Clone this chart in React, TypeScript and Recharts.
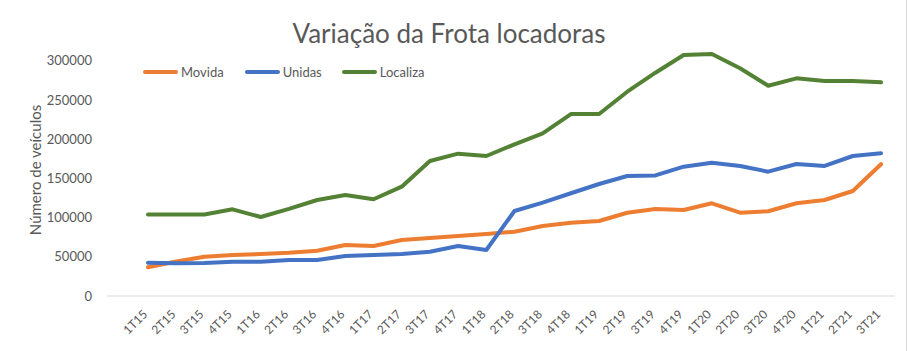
import React from 'react';
import { LineChart, Line, XAxis, YAxis } from 'recharts';

const quarters = [
  '1T15', '2T15', '3T15', '4T15', '1T16', '2T16', '3T16', '4T16', '1T17',
  '2T17', '3T17', '4T17', '1T18', '2T18', '3T18', '4T18', '1T19', '2T19',
  '3T19', '4T19', '1T20', '2T20', '3T20', '4T20', '1T21', '2T21', '3T21',
];

const movida = [
  36600, 44000, 50100, 52300, 53500, 55200, 57800, 65000, 63800, 71400, 74000,
  76500, 79000, 82000, 89300, 93500, 95600, 106200, 111000, 109700, 118200,
  106200, 108000, 118200, 122400, 133900, 168000,
];

const unidas = [
  42500, 41800, 42000, 43700, 43700, 45900, 45900, 51000, 52300, 53500, 56500,
  63800, 58700, 108400, 119000, 131000, 142800, 153000, 153800, 164900, 170000,
  165800, 158500, 168300, 165800, 178500, 182000,
];

const localiza = [
  104000, 104000, 104000, 110500, 100700, 111000, 122400, 128800, 123300,
  139400, 172100, 181500, 178500, 193400, 207400, 232000, 232000, 260500,
  284700, 307300, 308500, 290300, 268100, 277500, 274100, 274100, 272400,
];

const yTicks = [0, 50000, 100000, 150000, 200000, 250000, 300000];

const series = [
  { key: 'Movida', color: '#ED7D31' },
  { key: 'Unidas', color: '#4472C4' },
  { key: 'Localiza', color: '#548235' },
];

const data = quarters.map((q, i) => ({
  q,
  Movida: movida[i],
  Unidas: unidas[i],
  Localiza: localiza[i],
}));

const FONT = 'Lato, "Open Sans", sans-serif';
const TEXT = '#595959';

// rotated quarter labels, like excel does them
const QuarterTick = (props: any) => {
  const { x, y, payload } = props;
  const ax = x - 2;
  const ay = y + 9;
  return (
    <text
      x={ax}
      y={ay}
      transform={`rotate(-45, ${ax}, ${ay})`}
      textAnchor="end"
      dominantBaseline="middle"
      fill={TEXT}
      fontSize={12}
      fontFamily={FONT}
    >
      {payload.value}
    </text>
  );
};

export default function App() {
  return (
    <div
      style={{
        position: 'absolute',
        left: 0,
        top: 0,
        width: 906,
        height: 351,
        background: '#fff',
        borderRight: '1px solid #d9d9d9',
        fontFamily: FONT,
        color: TEXT,
      }}
    >
      <div
        style={{
          position: 'absolute',
          top: 16,
          left: 0,
          width: 898,
          textAlign: 'center',
          fontSize: 26,
          lineHeight: '34px',
        }}
      >
        Variação da Frota locadoras
      </div>

      <div
        style={{
          position: 'absolute',
          left: 35,
          top: 170,
          transform: 'translate(-50%, -50%) rotate(-90deg)',
          whiteSpace: 'nowrap',
          fontSize: 15,
        }}
      >
        Número de veículos
      </div>

      {/* legend */}
      <div style={{ position: 'absolute', left: 143, top: 63, display: 'flex', fontSize: 13, lineHeight: '18px' }}>
        {series.map((s, i) => (
          <div key={s.key} style={{ display: 'flex', alignItems: 'center', marginRight: i === 0 ? 21 : 20 }}>
            <span
              style={{
                display: 'inline-block',
                width: 35,
                height: 4,
                borderRadius: 2,
                background: s.color,
                marginRight: 3,
              }}
            />
            <span>{s.key}</span>
          </div>
        ))}
      </div>

      <LineChart
        width={906}
        height={351}
        data={data}
        margin={{ top: 21.5, right: 11, bottom: 0, left: 0 }}
        style={{ position: 'absolute', left: 0, top: 0 }}
      >
        <XAxis
          dataKey="q"
          height={55}
          padding={{ left: 41, right: 14 }}
          stroke="#d9d9d9"
          tickLine={false}
          interval={0}
          tick={<QuarterTick />}
        />
        <YAxis
          width={107}
          domain={[0, 350000]}
          ticks={yTicks}
          axisLine={false}
          tickLine={false}
          tickSize={0}
          tickMargin={15}
          tick={{ fill: TEXT, fontSize: 13, fontFamily: FONT }}
        />
        {series.map((s) => (
          <Line
            key={s.key}
            type="linear"
            dataKey={s.key}
            stroke={s.color}
            strokeWidth={4}
            strokeLinecap="round"
            strokeLinejoin="round"
            dot={false}
            isAnimationActive={false}
          />
        ))}
      </LineChart>
    </div>
  );
}
